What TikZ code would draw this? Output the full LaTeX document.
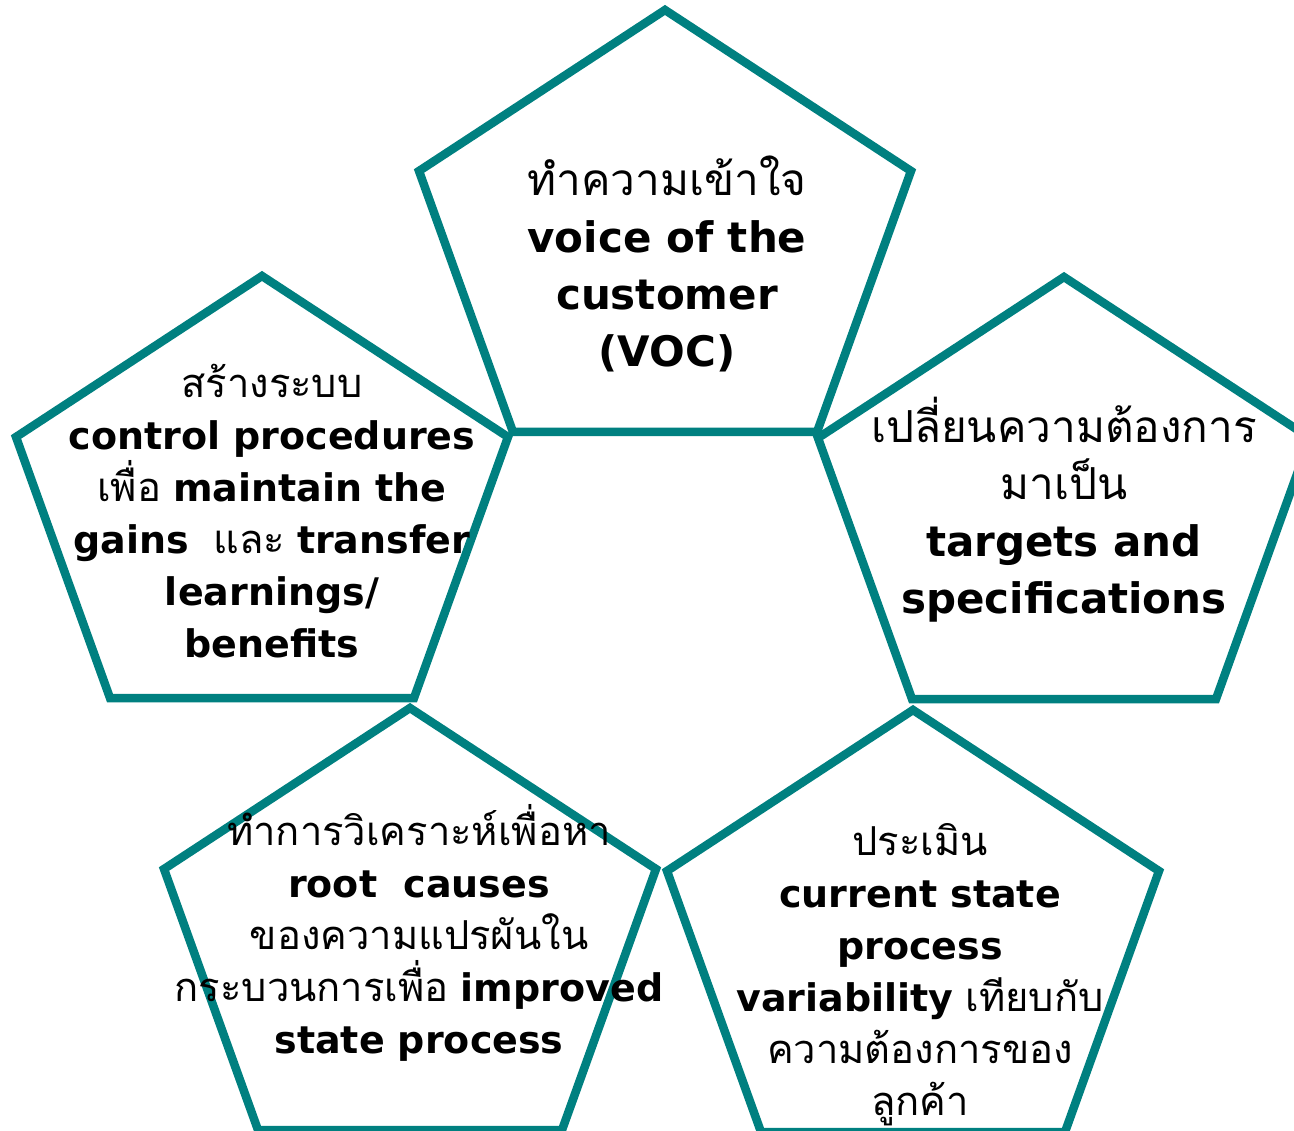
\documentclass[tikz,border=0pt]{standalone}
\usepackage{fontspec}
\setmainfont{DejaVu Sans}
\newfontfamily\thai[Script=Thai,Scale=1.05]{Loma}
\definecolor{teal1}{RGB}{0,128,128}
\tikzset{
  pentline/.style={draw=teal1, line width=8.5pt, line join=miter},
  pent/.pic={\path[pentline] (0,0) -- (246,161) -- (152,422) -- (-152,422) -- (-246,161) -- cycle;},
  big/.style={align=center, inner sep=0pt, font=\fontsize{42}{57}\selectfont},
  small/.style={align=center, inner sep=0pt, font=\fontsize{38}{52}\selectfont},
}
\newcommand{\thx}[1]{{\thai #1}}
\begin{document}
\begin{tikzpicture}[x=1pt,y=-1pt]
\useasboundingbox (0,0) rectangle (1294,1131);
\clip (0,0) rectangle (1294,1131);
\pic (ptop) at (665,10) {pent};
\pic (pleft) at (262,276) {pent};
\pic (pright) at (1064,277) {pent};
\pic (pbl) at (410,708) {pent};
\pic (pbr) at (913,710) {pent};
\node[big] (ttop) at (667,264) {\thx{ทำความเข้าใจ}\\ \textbf{voice of the}\\ \textbf{customer}\\ \textbf{(VOC)}};
\node[big] (tright) at (1064,510) {\thx{เปลี่ยนความต้องการ}\\ \thx{มาเป็น}\\ \textbf{targets and}\\ \textbf{specifications}};
\node[small] (tleft) at (272,511) {\thx{สร้างระบบ}\\ \textbf{control procedures}\\ \thx{เพื่อ} \textbf{maintain the}\\ \textbf{gains}\ \ \thx{และ} \textbf{transfer}\\ \textbf{learnings/}\\ \textbf{benefits}};
\node[small] (tbl) at (419,933) {\thx{ทำการวิเคราะห์เพื่อหา}\\ \textbf{root\ \ causes}\\ \thx{ของความแปรผันใน}\\ \thx{กระบวนการเพื่อ} \textbf{improved}\\ \textbf{state process}};
\node[small] (tbr) at (920,975) {\thx{ประเมิน}\\ \textbf{current state}\\ \textbf{process}\\ \textbf{variability} \thx{เทียบกับ}\\ \thx{ความต้องการของ}\\ \thx{ลูกค้า}};
\end{tikzpicture}
\end{document}
